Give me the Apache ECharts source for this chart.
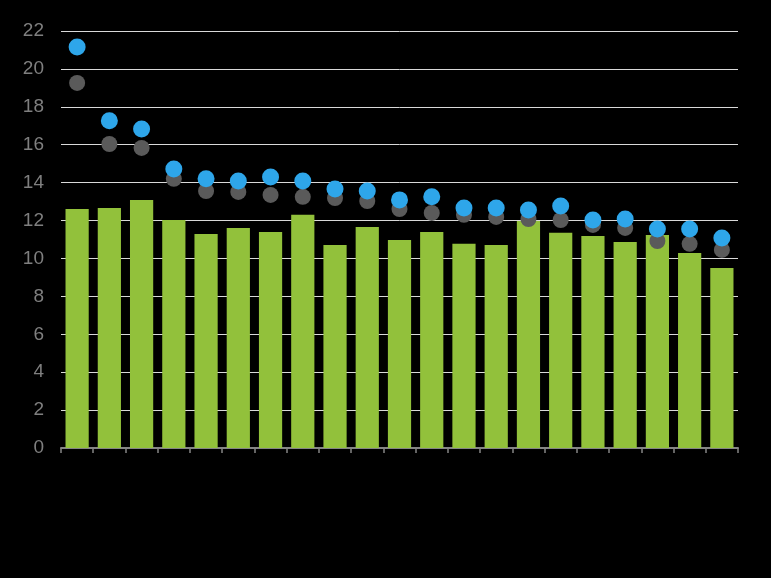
<!DOCTYPE html>
<html>
<head>
<meta charset="utf-8">
<script src="https://cdn.jsdelivr.net/npm/echarts@6/dist/echarts.min.js"></script>
<style>html,body{margin:0;padding:0;background:#000;}#c{width:771px;height:578px;}</style>
</head>
<body>
<div id="c"></div>
<script>
var categories = ["1","2","3","4","5","6","7","8","9","10","11","12","13","14","15","16","17","18","19","20","21"];
var barValues = [12.61,12.66,13.09,12.03,11.29,11.61,11.40,12.30,10.71,11.66,10.98,11.40,10.77,10.71,11.98,11.35,11.19,10.87,11.24,10.29,9.50];
var blueValues = [21.16,17.26,16.83,14.72,14.20,14.09,14.30,14.09,13.67,13.56,13.09,13.25,12.66,12.66,12.56,12.77,12.03,12.08,11.56,11.56,11.08];
var grayValues = [19.26,16.04,15.83,14.20,13.56,13.51,13.35,13.25,13.19,13.03,12.61,12.40,12.30,12.19,12.08,12.03,11.77,11.61,10.92,10.77,10.45];
var yTicks = [0,2,4,6,8,10,12,14,16,18,20,22];

var chart = echarts.init(document.getElementById('c'), null, {renderer:'canvas'});
chart.setOption({
  backgroundColor: '#000000',
  animation: false,
  grid: {left: 61, right: 33, top: 31, bottom: 130, containLabel: false},
  xAxis: {
    type: 'category',
    data: categories,
    boundaryGap: true,
    axisLine: {show: true, lineStyle: {color: '#858585', width: 2}},
    axisTick: {show: true, length: 5, lineStyle: {color: '#858585', width: 1.5}},
    axisLabel: {show: false}
  },
  yAxis: {
    type: 'value',
    min: yTicks[0],
    max: yTicks[yTicks.length-1],
    interval: 2,
    axisLine: {show: false},
    axisTick: {show: false},
    axisLabel: {color: '#7f7f7f', fontSize: 19, fontFamily: 'Liberation Sans, Arial', margin: 17},
    splitLine: {lineStyle: {color: '#d9d9d9', width: 1}}
  },
  series: [
    {
      type: 'bar',
      data: barValues,
      barCategoryGap: '28%',
      itemStyle: {color: '#92c13b'}
    },
    {
      type: 'scatter',
      data: grayValues,
      symbolSize: 16,
      itemStyle: {color: '#5a5a5a', opacity: 1}
    },
    {
      type: 'scatter',
      data: blueValues,
      symbolSize: 17,
      itemStyle: {color: '#2ea6ea', opacity: 1}
    }
  ]
});
</script>
</body>
</html>
